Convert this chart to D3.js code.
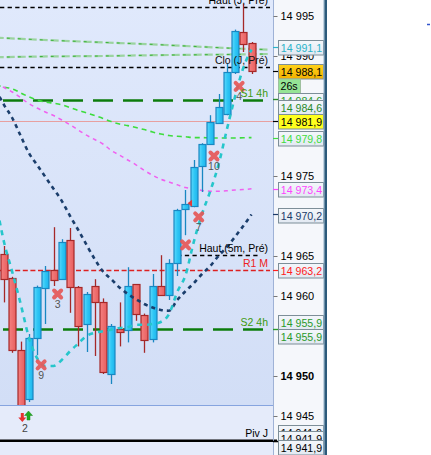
<!DOCTYPE html>
<html><head><meta charset="utf-8">
<script src="https://cdn.jsdelivr.net/npm/d3@7"></script>
<style>
body{margin:0;background:#fff;overflow:hidden}
svg{display:block;font-family:"Liberation Sans",Arial,sans-serif}
</style>
</head><body>
<svg id="c" width="431" height="455"></svg>
<script>
// ---------- DATA ----------
const candleOpen  = [14965.25,14962.2,14953.25,14947.1,14954.7,14961.0,14963.2,14962.1,14966.95,14961.1,14956.5,14961.2,14959.2,14950.3,14955.9,14955.7,14961.5,14957.6,14954.6,14961.2,14960.1,14964.1,14970.9,14971.2,14976.2,14979.0,14981.6,14982.8,14988.0,14993.0,14991.6];
const candleHigh  = [14966.25,14962.4,14954.3,14955.25,14961.3,14963.75,14968.6,14967.1,14968.5,14961.25,14960.5,14962.1,14959.7,14956.5,14959.2,14963.6,14961.5,14957.8,14962.75,14965.1,14964.6,14970.9,14973.25,14977.0,14979.1,14982.6,14985.25,14989.1,14993.3,14996.5,14991.75];
const candleLow   = [14959.2,14952.9,14944.0,14946.75,14952.6,14956.5,14961.25,14962.0,14957.9,14953.7,14953.0,14952.5,14950.25,14949.0,14953.7,14954.2,14956.9,14952.9,14954.2,14960.1,14959.5,14962.5,14967.6,14971.1,14973.0,14978.9,14981.6,14982.6,14987.75,14990.5,14987.75];
const candleClose = [14962.1,14953.2,14945.0,14954.7,14961.1,14963.1,14962.0,14966.7,14961.1,14956.2,14960.2,14959.2,14950.5,14956.2,14955.5,14961.2,14957.7,14954.5,14961.2,14960.1,14964.1,14970.75,14971.5,14976.1,14979.0,14981.7,14983.6,14988.0,14993.1,14991.5,14988.1];

// indicator series, index -1 .. 30
const navySeries    = [14985.8,14983.9,14982.25,14980.06,14977.9,14976.4,14974.9,14973.4,14971.9,14970.0,14968.25,14966.4,14964.6,14963.06,14962.1,14961.06,14960.25,14959.6,14959.0,14958.56,14958.25,14958.16,14959.5,14960.6,14961.6,14962.75,14963.75,14965.0,14966.1,14967.4,14968.75,14970.2];
const magentaSeries = [14986.6,14986.06,14985.5,14984.8,14984.06,14983.5,14983.0,14982.56,14982.0,14981.4,14980.75,14980.1,14979.56,14979.0,14978.2,14977.6,14977.0,14976.4,14975.7,14975.1,14974.6,14974.25,14973.9,14973.56,14973.4,14973.2,14973.1,14973.1,14973.15,14973.25,14973.3,14973.4];
const greenSeries   = [14986.4,14986.1,14985.9,14985.4,14984.9,14984.5,14984.25,14984.1,14983.9,14983.56,14983.2,14982.9,14982.56,14982.2,14981.8,14981.5,14981.3,14981.06,14980.8,14980.5,14980.25,14980.06,14979.96,14979.9,14979.8,14979.8,14979.75,14979.75,14979.75,14979.75,14979.78,14979.8];
const cyanSeries    = [14971.9,14966.75,14963.0,14959.1,14954.9,14952.25,14951.25,14951.25,14952.0,14953.1,14954.06,14955.0,14955.4,14955.6,14955.8,14956.0,14956.1,14956.4,14956.4,14956.5,14956.75,14957.75,14960.5,14962.6,14966.75,14970.25,14973.1,14976.4,14980.75,14984.9,14988.5,14990.8];

// faint green lines near top: [index, price]
const upperGreenPts = [[-1,14992.3],[6,14991.95],[12,14991.7],[18,14991.45],[23,14991.2],[28,14990.95],[32,14990.8]];
const lowerGreenPts = [[-1,14989.85],[6,14989.95],[12,14990.0],[18,14990.1],[23,14990.15],[28,14990.2],[32,14990.25]];

// horizontal levels
const levelNames  = ["Haut (J, Pré)","Clo (J, Pré)","S1 4h","Haut (5m, Pré)","R1 M","S2 4h","Piv J"];
const levelPrices = [14996.1,14988.6,14984.5,14965.1,14963.2,14955.9,14941.9];
const lastPrice = 14981.9;

// signal markers
const markerIndex = [6.5,4.5,22.0,23.6,25.45,28.5];
const markerPrice = [14960.25,14951.4,14966.4,14969.9,14977.5,14986.2];
const markerLabel = ["3","9","","7","10","4"];
const triangleIndex = [22.55], trianglePrice = [14971.6];
const arrowIndex = 2, arrowLabel = "2";

// axis
const tickValues = [14945,14950,14955,14960,14965,14970,14975,14980,14985,14990,14995];
const boxValues = [14991.1,14988.1,14984.6,14984.6,14981.9,14979.8,14973.4,14970.2,14963.2,14955.9,14955.9,14941.9,14941.9,14941.9];
const timerText = "26s";

// ---------- STYLES ----------
const boxStyle = [
 {c:"#2ab3c9",bg:null,dy:0},
 {c:"#000",bg:"gold",dy:0},
 {c:"#2a9a2a",bg:null,dy:0.8},
 {c:"#2a8a2a",bg:null,dy:7.8},
 {c:"#000",bg:"yellow",dy:0.2},
 {c:"#3fdc3f",bg:null,dy:0.4},
 {c:"#ff44ff",bg:null,dy:0.2},
 {c:"#1b3a68",bg:null,dy:0.6},
 {c:"#ff2020",bg:null,dy:0.1},
 {c:"#2a9a2a",bg:null,dy:-6.8},
 {c:"#2a9a2a",bg:null,dy:7.2},
 {c:"#000",bg:null,dy:-8.8},
 {c:"#000",bg:null,dy:-2.8},
 {c:"#000",bg:null,dy:6.7}
];

// ---------- DRAW ----------
const W=431,H=455, plotR=273, panelTop=405;
const svg=d3.select("#c");
const defs=svg.append("defs");
const bgG=defs.append("linearGradient").attr("id","bg").attr("x1",0).attr("x2",0).attr("y1",0).attr("y2",1);
bgG.append("stop").attr("offset","0%").attr("stop-color","#e0e9fc");
bgG.append("stop").attr("offset","100%").attr("stop-color","#d2def6");
const upG=defs.append("linearGradient").attr("id","up").attr("x1",0).attr("x2",1);
upG.append("stop").attr("offset","0%").attr("stop-color","#5cd8fb");
upG.append("stop").attr("offset","50%").attr("stop-color","#2ec6f5");
upG.append("stop").attr("offset","100%").attr("stop-color","#1db4ec");
const dnG=defs.append("linearGradient").attr("id","dn").attr("x1",0).attr("x2",1);
dnG.append("stop").attr("offset","0%").attr("stop-color","#f48080");
dnG.append("stop").attr("offset","100%").attr("stop-color","#e85e5e");
const goldG=defs.append("linearGradient").attr("id","gold").attr("x1",0).attr("x2",0).attr("y1",0).attr("y2",1);
goldG.append("stop").attr("offset","0%").attr("stop-color","#ffd21a");
goldG.append("stop").attr("offset","100%").attr("stop-color","#f2b000");
const boxG=defs.append("linearGradient").attr("id","boxbg").attr("x1",0).attr("x2",0).attr("y1",0).attr("y2",1);
boxG.append("stop").attr("offset","0%").attr("stop-color","#f4f7fb");
boxG.append("stop").attr("offset","100%").attr("stop-color","#e2e9f2");
defs.append("clipPath").attr("id","plotclip").append("rect").attr("x",0).attr("y",0).attr("width",plotR).attr("height",panelTop);

const x=d3.scaleLinear().domain([0,30]).range([4,251.5]);
const y=d3.scaleLinear().domain([14945,14995]).range([416,16]);
const fr=d3.formatLocale({decimal:",",thousands:" ",grouping:[3],currency:["",""]});
const fmt1=fr.format(",.1f"), fmt0=fr.format(",d");

svg.append("rect").attr("width",W).attr("height",H).attr("fill","#fff");
svg.append("rect").attr("x",0).attr("y",0).attr("width",plotR).attr("height",panelTop).attr("fill","url(#bg)");
svg.append("rect").attr("x",plotR).attr("y",0).attr("width",324-plotR).attr("height",H).attr("fill","#f5f7fb");

const plot=svg.append("g").attr("clip-path","url(#plotclip)");

// faint green top lines
const ptLine=d3.line().x(d=>x(d[0])).y(d=>y(d[1])).curve(d3.curveMonotoneX);
[upperGreenPts,lowerGreenPts].forEach(pts=>{
  plot.append("path").attr("d",ptLine(pts)).attr("fill","none").attr("stroke","#8fd08f").attr("stroke-width",2.2).attr("stroke-dasharray","8,3").attr("opacity",0.85);
  plot.append("path").attr("d",ptLine(pts)).attr("fill","none").attr("stroke","#3cb23c").attr("stroke-width",1).attr("stroke-dasharray","3,8");
});

// level lines
const pix=v=>Math.round(y(v))+0.5;
levelPrices.forEach((p,k)=>{
  const n=levelNames[k];
  let st={c:"#000",w:1.3,d:"4.3,3.3",x0:0,x1:270};
  if(n.startsWith("S1")||n.startsWith("S2")) st={c:"#0c7c0c",w:2.4,d:"20,10",x0:3,x1:270};
  if(n==="R1 M") st={c:"#dd2020",w:1.3,d:"5,2.6",x0:0,x1:270};
  if(n==="Haut (5m, Pré)") st={c:"#000",w:1.3,d:"4.3,3.3",x0:x(21),x1:260};
  if(n==="Piv J") return;
  plot.append("line").attr("x1",st.x0).attr("x2",st.x1).attr("y1",pix(p)).attr("y2",pix(p))
   .attr("stroke",st.c).attr("stroke-width",st.w).attr("stroke-dasharray",st.d);
});
// last price line
plot.append("line").attr("x1",0).attr("x2",plotR).attr("y1",pix(lastPrice)).attr("y2",pix(lastPrice)).attr("stroke","#e8a0a0").attr("stroke-width",1);

// indicator lines
const serLine=d3.line().x((d,i)=>x(i-1)).y(d=>y(d)).curve(d3.curveMonotoneX);
plot.append("path").attr("d",serLine(greenSeries)).attr("fill","none").attr("stroke","#3ddc3d").attr("stroke-width",1.6).attr("stroke-dasharray","5,4");
plot.append("path").attr("d",serLine(magentaSeries)).attr("fill","none").attr("stroke","#f060f0").attr("stroke-width",1.5).attr("stroke-dasharray","4,4");

// candles
const cg=plot.append("g");
candleOpen.forEach((o,i)=>{
  const c=candleClose[i], up=c>=o, cx=Math.round(x(i))+0.5;
  const edge=up?"#1987c2":"#a52828";
  cg.append("line").attr("x1",cx).attr("x2",cx).attr("y1",y(candleHigh[i])).attr("y2",y(candleLow[i])).attr("stroke",edge).attr("stroke-width",1.3);
  const t=Math.round(y(Math.max(o,c)))+0.5, b=Math.round(y(Math.min(o,c)))+0.5;
  cg.append("rect").attr("x",cx-3.5).attr("y",t).attr("width",7).attr("height",Math.max(1,b-t))
   .attr("fill",up?"url(#up)":"url(#dn)").attr("stroke",edge).attr("stroke-width",1.2);
});

plot.append("path").attr("d",serLine(navySeries)).attr("fill","none").attr("stroke","#1b3e6c").attr("stroke-width",2.6).attr("stroke-dasharray","4,4");
plot.append("path").attr("d",serLine(cyanSeries)).attr("fill","none").attr("stroke","#26c6cb").attr("stroke-width",2.6).attr("stroke-dasharray","5,5");

// markers
markerIndex.forEach((mi,k)=>{
  const mx=x(mi), my=y(markerPrice[k]);
  plot.append("path").attr("d",`M${mx-3.5},${my-3.5}L${mx+3.5},${my+3.5}M${mx+3.5},${my-3.5}L${mx-3.5},${my+3.5}`)
   .attr("stroke","#e65858").attr("stroke-width",4).attr("stroke-linecap","round").attr("opacity",0.92);
  if(markerLabel[k]) plot.append("text").attr("x",mx).attr("y",my+14).attr("text-anchor","middle").attr("font-size",10.5).attr("fill","#555").text(markerLabel[k]);
});
triangleIndex.forEach((ti,k)=>{
  const tx=x(ti), ty=y(trianglePrice[k]);
  plot.append("path").attr("d",`M${tx-2.5},${ty}L${tx+2},${ty-3.5}L${tx+2},${ty+3.5}Z`).attr("fill","#e03a3a");
});

// in-chart level labels
const lblStyle={"Haut (J, Pré)":"#000","Clo (J, Pré)":"#111","S1 4h":"#3d9a0e","Haut (5m, Pré)":"#000","R1 M":"#ee2222","S2 4h":"#3d9a0e","Piv J":"#000"};
levelPrices.forEach((p,k)=>{
  if(levelNames[k]==="Piv J") return;
  plot.append("text").attr("x",268).attr("y",y(p)-3).attr("text-anchor","end").attr("font-size",10.5).attr("fill",lblStyle[levelNames[k]]).text(levelNames[k]);
});

// lower panel
svg.append("rect").attr("x",0).attr("y",panelTop).attr("width",plotR).attr("height",H-panelTop).attr("fill","#e5ebfa");
svg.append("line").attr("x1",0).attr("x2",plotR).attr("y1",panelTop+0.5).attr("y2",panelTop+0.5).attr("stroke","#86a4df").attr("stroke-width",1);
const piv=levelPrices[levelNames.indexOf("Piv J")];
svg.append("line").attr("x1",0).attr("x2",plotR+4).attr("y1",y(piv)).attr("y2",y(piv)).attr("stroke","#000").attr("stroke-width",2.4);
svg.append("text").attr("x",268).attr("y",y(piv)-3.5).attr("text-anchor","end").attr("font-size",10.5).attr("fill","#000").text("Piv J");

// arrows
const ax=x(arrowIndex);
const dn=(cx,ty)=>`M${cx-1.5},${ty}h3v4.5h2.5l-4,4.5l-4,-4.5h2.5z`;
const upA=(cx,ty)=>`M${cx},${ty}l4,4.5h-2.5v4.5h-3v-4.5h-2.5z`;
svg.append("path").attr("d",dn(ax+1.8,413)).attr("fill","#e83030");
svg.append("path").attr("d",upA(ax+8,411)).attr("fill","#22aa22").attr("stroke","#1a8a1a").attr("stroke-width",0.5);
svg.append("text").attr("x",ax+4.5).attr("y",432).attr("text-anchor","middle").attr("font-size",10.5).attr("fill","#444").text(arrowLabel);

// box layout (computed first so fully covered tick labels are skipped)
const boxH=14.5, boxX=278.5, boxW=45;
const boxes=boxValues.map((v,k)=>{const top=Math.round(y(v)+boxStyle[k].dy-boxH/2)+0.5; return {v,k,top,bot:top+boxH};});
const timerTop=boxes[1].bot, timerBot=timerTop+boxH;
const covered=t=>{
  const ty=y(t), a=ty-4, b=ty+4;
  const spans=boxes.map(d=>[d.top,d.bot]).concat([[timerTop,timerBot]]).sort((p,q)=>p[0]-q[0]);
  let cur=a;
  for(const s of spans){ if(s[0]<=cur && s[1]>cur) cur=s[1]; }
  return cur>=b;
};

// axis
svg.append("line").attr("x1",plotR+0.5).attr("x2",plotR+0.5).attr("y1",0).attr("y2",H).attr("stroke","#9fb2d6").attr("stroke-width",1);
const axisG=svg.append("g").attr("transform",`translate(${plotR+0.5},0)`);
const yAxis=d3.axisRight(y).tickValues(tickValues.filter(t=>!covered(t))).tickSize(4).tickPadding(3).tickFormat(fmt0);
axisG.call(yAxis);
axisG.select(".domain").remove();
axisG.selectAll(".tick line").attr("stroke","#777");
axisG.selectAll(".tick text").attr("font-size",11).attr("fill","#000").attr("font-family","'Liberation Sans',Arial,sans-serif")
  .attr("font-weight",d=>d===14950?"bold":"normal");

// colored ticks + boxes
boxes.forEach(d=>{
  const s=boxStyle[d.k];
  svg.append("line").attr("x1",plotR).attr("x2",boxX).attr("y1",pix(d.v)).attr("y2",pix(d.v)).attr("stroke",s.c).attr("stroke-width",1.2);
});
boxes.forEach(d=>{
  const s=boxStyle[d.k];
  const fill=s.bg==="gold"?"url(#gold)":s.bg==="yellow"?"#ffff1e":"url(#boxbg)";
  svg.append("rect").attr("x",boxX).attr("y",d.top).attr("width",boxW).attr("height",boxH)
    .attr("fill",fill).attr("stroke","#7d8e98").attr("stroke-width",1);
  svg.append("text").attr("x",280.8).attr("y",d.top+11.2).attr("font-size",10.6).attr("fill",s.c).text(fmt1(d.v));
  if(d.k===1){
    svg.append("rect").attr("x",boxX).attr("y",timerTop).attr("width",22).attr("height",boxH).attr("fill","#95e495").attr("stroke","#9fc09f").attr("stroke-width",1);
    svg.append("text").attr("x",280.5).attr("y",timerTop+11.2).attr("font-size",10.6).attr("fill","#000").text(timerText);
  }
});

// right border
svg.append("rect").attr("x",323.5).attr("y",0).attr("width",1.2).attr("height",H).attr("fill","#8fb0c8");
svg.append("rect").attr("x",324.5).attr("y",0).attr("width",2.5).attr("height",H).attr("fill","#2d5a7b");
svg.append("line").attr("x1",427).attr("x2",430).attr("y1",24.5).attr("y2",24.5).attr("stroke","#3355cc").attr("stroke-width",1.5);
</script>
</body></html>
